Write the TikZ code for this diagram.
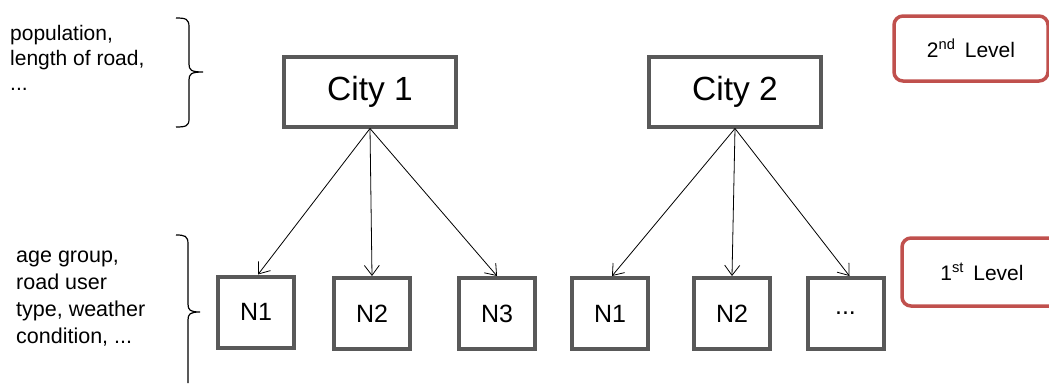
\documentclass[tikz,border=0pt]{standalone}
\usepackage{fontspec}
\setmainfont{Liberation Sans}
\usetikzlibrary{arrows.meta}
\definecolor{boxgray}{HTML}{595959}
\definecolor{lvlred}{HTML}{C0504D}
\begin{document}
\begin{tikzpicture}[x=1pt,y=-1pt,
  city/.style={draw=boxgray,line width=4pt,minimum width=172pt,minimum height=70pt,inner sep=0pt,font=\fontsize{33.5}{36}\selectfont},
  nbox/.style={draw=boxgray,line width=4pt,minimum width=76pt,minimum height=71pt,inner sep=0pt,font=\fontsize{25}{28}\selectfont},
  lvl/.style={draw=lvlred,line width=3.5pt,rounded corners=9pt,inner sep=0pt,font=\fontsize{21}{24}\selectfont},
  conn/.style={-{Straight Barb[length=10pt,width=15pt]},line width=0.8pt},
  brc/.style={line width=1.2pt},
  side/.style={align=left,inner sep=0pt,anchor=north west}]
\useasboundingbox (0,0) rectangle (1049,383);
\node[city] (c1) at (370,91.5) {City 1};
\node[city] (c2) at (735,91.5) {City 2};
\node[nbox] (a1) at (256,312) {N1};
\node[nbox] (a2) at (372,313.5) {N2};
\node[nbox] (a3) at (497,313.5) {N3};
\node[nbox] (b1) at (610,313.5) {N1};
\node[nbox] (b2) at (732,313.5) {N2};
\node[nbox] (b3) at (845.5,313.5) {...};
\draw[conn] (c1.south) -- ([xshift=2pt]a1.north);
\draw[conn] (c1.south) -- (a2.north);
\draw[conn] (c1.south) -- (a3.north);
\draw[conn] (c2.south) -- ([xshift=2pt]b1.north);
\draw[conn] (c2.south) -- (b2.north);
\draw[conn] (c2.south) -- ([xshift=4pt]b3.north);
\node[lvl,minimum width=154pt,minimum height=65pt] (l2) at (971,48.5) {2\textsuperscript{nd}\, Level};
\node[lvl,minimum width=160pt,minimum height=68pt] (l1) at (982,272) {1\textsuperscript{st}\, Level};
\node[side,font=\fontsize{21}{25}\selectfont] (t2) at (10,25) {population,\\length of road,\\...};
\node[side,font=\fontsize{21.5}{27}\selectfont] (t1) at (16,251) {age group,\\road user\\type, weather\\condition, ...};
\coordinate (br2) at (203,72);
\draw[brc] (176,18) .. controls (186,18) and (189,19) .. (189,27) -- (189,64) .. controls (189,70) and (191,72) .. (br2)
  (br2) .. controls (191,72) and (189,74) .. (189,80) -- (189,119) .. controls (189,126) and (186,127) .. (176,127);
\coordinate (br1) at (200,312);
\draw[brc] (176,235) .. controls (185,235) and (188,236) .. (188,244) -- (188,304) .. controls (188,310) and (190,312) .. (br1)
  (br1) .. controls (190,312) and (188,314) .. (188,320) -- (188,383);
\end{tikzpicture}
\end{document}
